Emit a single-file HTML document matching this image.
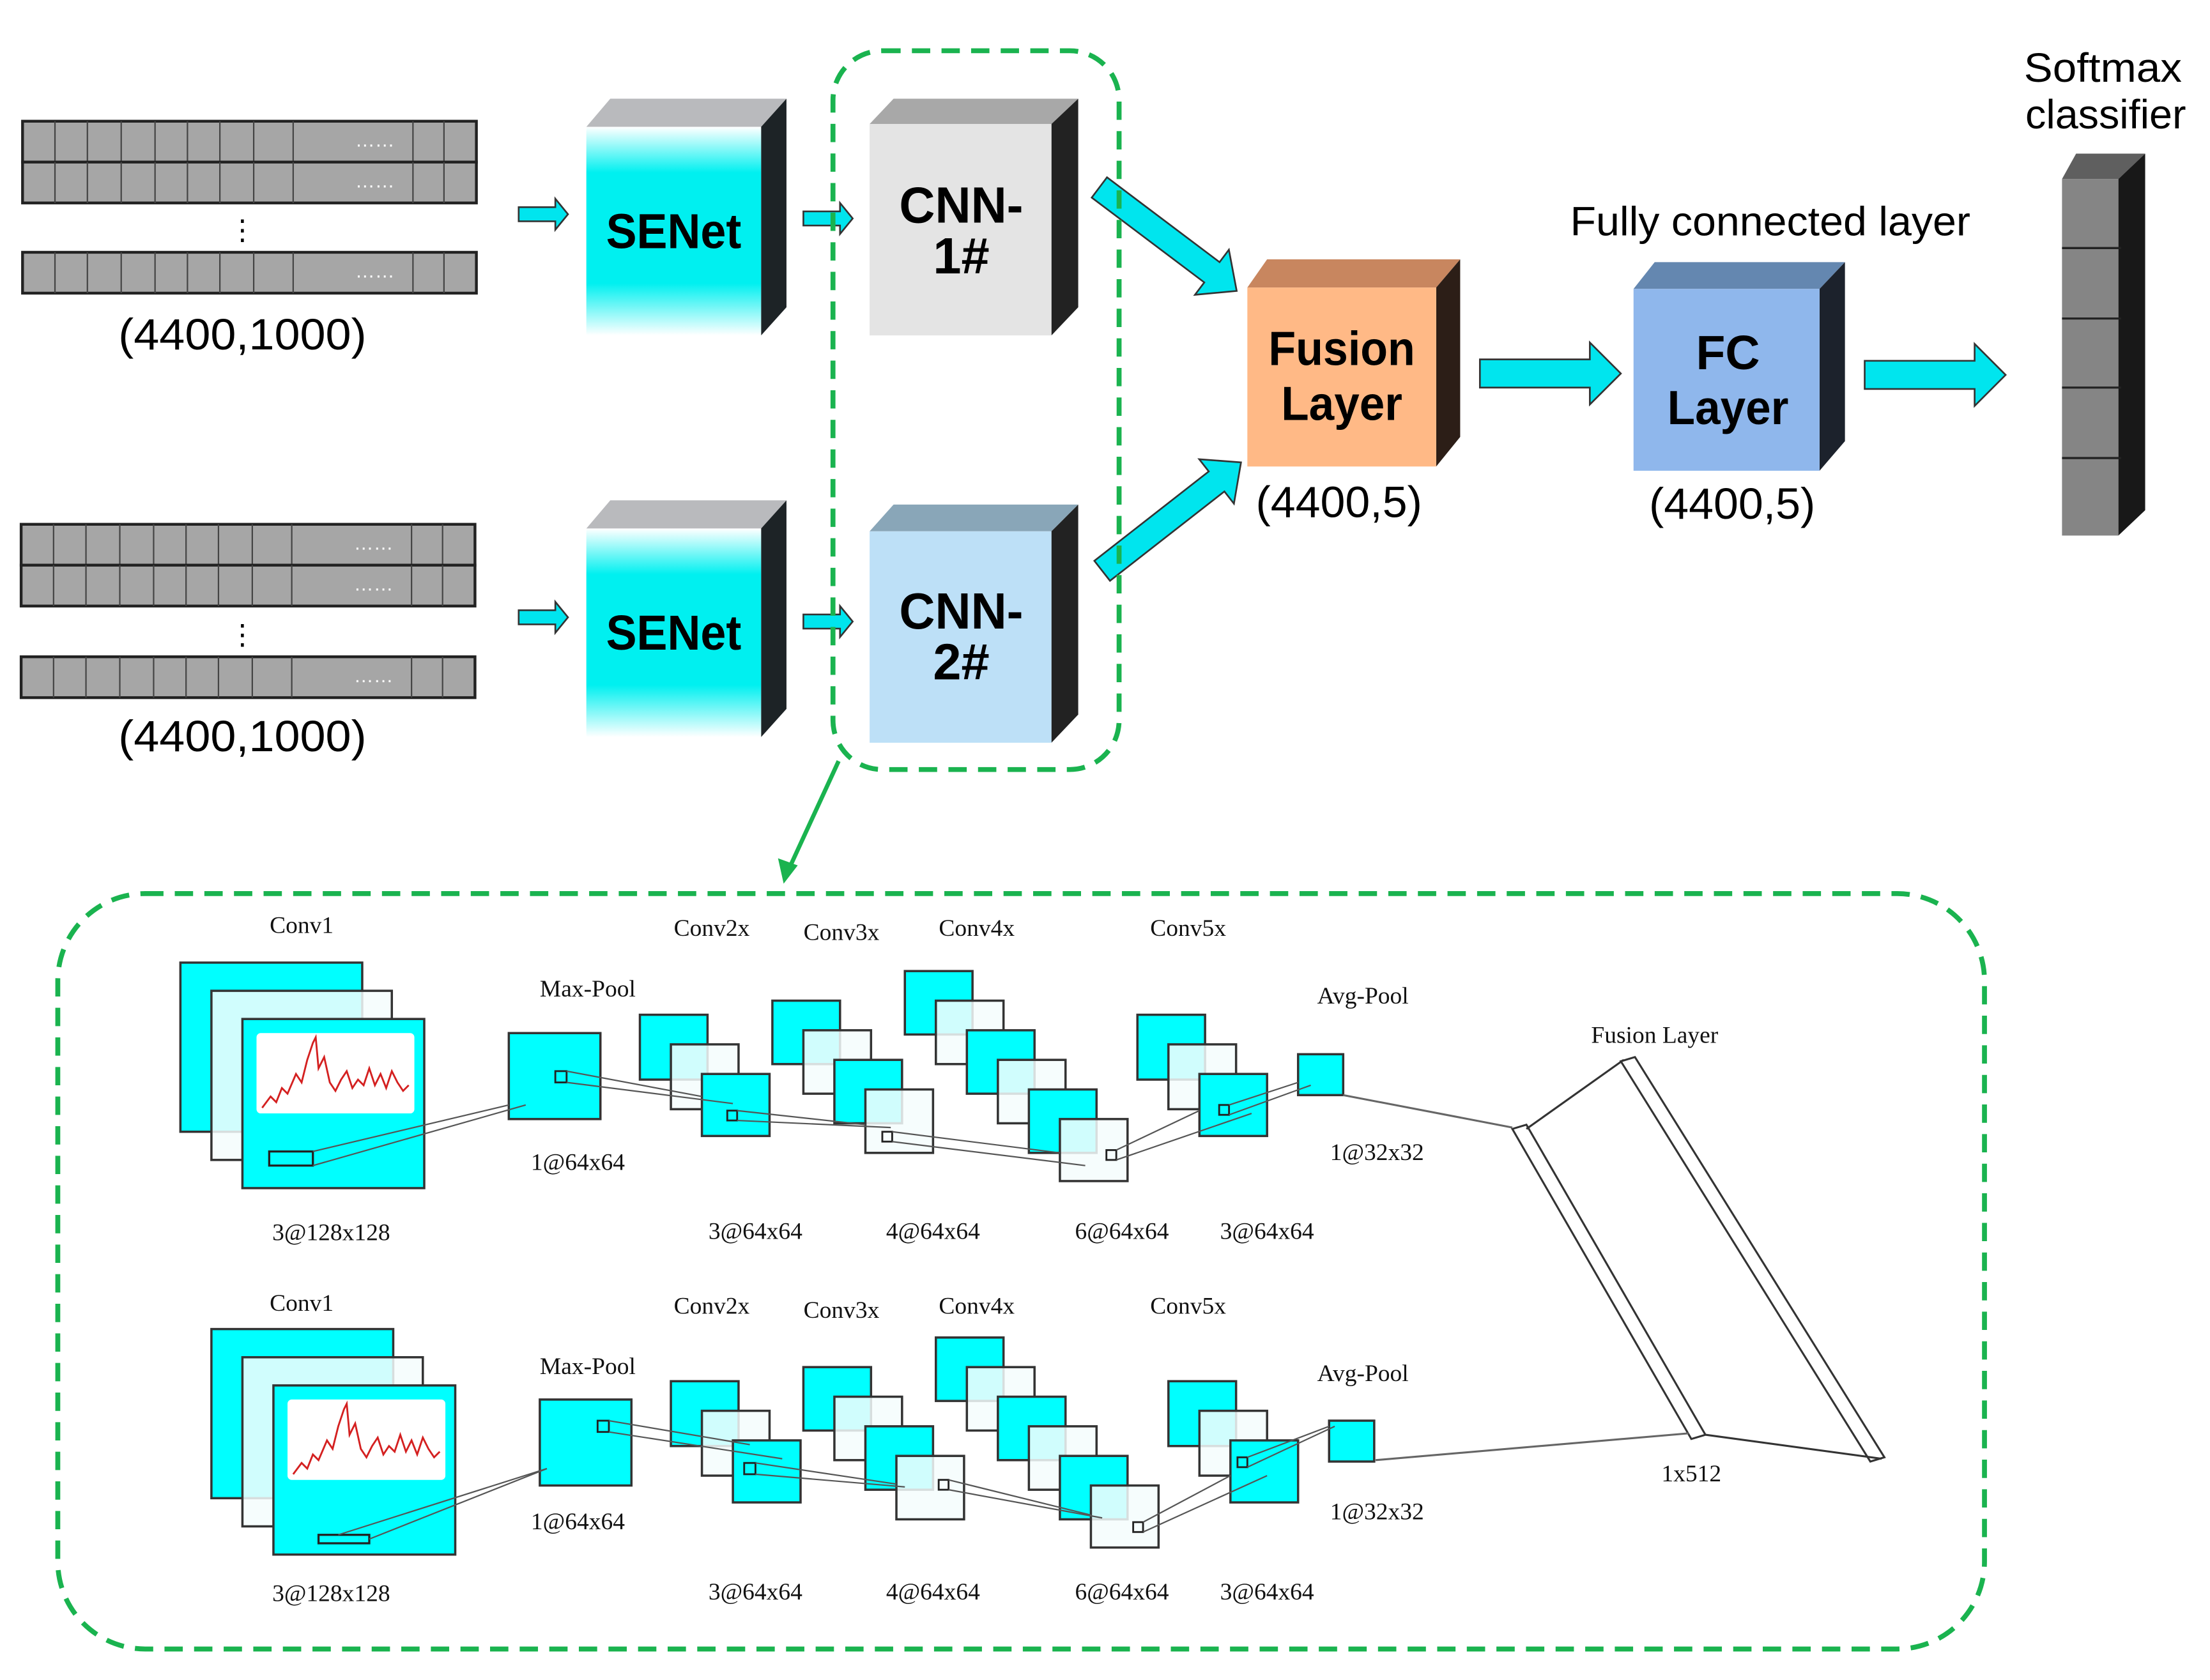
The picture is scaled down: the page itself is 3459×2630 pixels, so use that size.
<!DOCTYPE html>
<html><head><meta charset="utf-8"><style>html,body{margin:0;padding:0;background:#fff}svg{display:block}</style></head><body>
<svg width="3459" height="2630" viewBox="0 0 1568 1192" preserveAspectRatio="none" xmlns="http://www.w3.org/2000/svg" font-family="Liberation Sans, sans-serif">
<defs>
<linearGradient id="se" x1="0" y1="0" x2="0" y2="1">
<stop offset="0" stop-color="#fff"/><stop offset="0.22" stop-color="#00f0f0"/><stop offset="0.75" stop-color="#00f0f0"/><stop offset="1" stop-color="#fff"/></linearGradient>
<g id="mat">
<rect x="0" y="0" width="322" height="29" fill="#a6a6a6" stroke="#222" stroke-width="2"/>
<g stroke="#444" stroke-width="1"><line x1="23" y1="0" x2="23" y2="29"/><line x1="46" y1="0" x2="46" y2="29"/><line x1="70" y1="0" x2="70" y2="29"/><line x1="94" y1="0" x2="94" y2="29"/><line x1="117" y1="0" x2="117" y2="29"/><line x1="140" y1="0" x2="140" y2="29"/><line x1="164" y1="0" x2="164" y2="29"/><line x1="192" y1="0" x2="192" y2="29"/><line x1="277" y1="0" x2="277" y2="29"/><line x1="299" y1="0" x2="299" y2="29"/></g>
<text x="250" y="18" fill="#fff" font-size="14" text-anchor="middle">……</text>
</g>
<g id="sarr"><path d="M0,-5 H26 V-11 L35,0 L26,11 V5 H0 Z" fill="#00e5ee" stroke="#333" stroke-width="1.2"/></g>
<g id="barr"><path d="M0,-10 H78 V-22 L100,0 L78,22 V10 H0 Z" fill="#00e5ee" stroke="#333" stroke-width="1.2"/></g>
</defs>
<rect width="1568" height="1192" fill="#fff"/>

<use href="#mat" x="16" y="86"/><use href="#mat" x="16" y="115"/><use href="#mat" x="16" y="179"/>
<text x="172" y="170" font-size="20" text-anchor="middle">⋮</text>
<text x="172" y="248" font-size="31" text-anchor="middle" textLength="176" lengthAdjust="spacingAndGlyphs">(4400,1000)</text>
<use href="#mat" x="15" y="372"/><use href="#mat" x="15" y="401"/><use href="#mat" x="15" y="466"/>
<text x="172" y="457" font-size="20" text-anchor="middle">⋮</text>
<text x="172" y="533" font-size="31" text-anchor="middle" textLength="176" lengthAdjust="spacingAndGlyphs">(4400,1000)</text>

<use href="#sarr" x="368" y="152"/><use href="#sarr" x="368" y="438"/>
<use href="#sarr" x="570" y="155"/><use href="#sarr" x="570" y="441"/>

<g>
<polygon points="416,90 433,70 558,70 540,90" fill="#b9babd"/>
<polygon points="540,90 558,70 558,218 540,238" fill="#1d2326"/>
<rect x="416" y="90" width="124" height="148" fill="url(#se)"/>
<text x="478" y="176" font-size="35" font-weight="bold" text-anchor="middle" textLength="96" lengthAdjust="spacingAndGlyphs">SENet</text>
</g>
<g>
<polygon points="416,375 433,355 558,355 540,375" fill="#b9babd"/>
<polygon points="540,375 558,355 558,503 540,523" fill="#1d2326"/>
<rect x="416" y="375" width="124" height="148" fill="url(#se)"/>
<text x="478" y="461" font-size="35" font-weight="bold" text-anchor="middle" textLength="96" lengthAdjust="spacingAndGlyphs">SENet</text>
</g>

<polygon points="617,88 634,70 765,70 746,88" fill="#a8a8a8"/>
<polygon points="746,88 765,70 765,218 746,238" fill="#222"/>
<rect x="617" y="88" width="129" height="150" fill="#e4e4e4"/>
<text x="682" y="158" font-size="36" font-weight="bold" text-anchor="middle" textLength="88" lengthAdjust="spacingAndGlyphs">CNN-</text>
<text x="682" y="194" font-size="36" font-weight="bold" text-anchor="middle">1#</text>
<polygon points="617,377 634,358 765,358 746,377" fill="#89a6b8"/>
<polygon points="746,377 765,358 765,507 746,527" fill="#222"/>
<rect x="617" y="377" width="129" height="150" fill="#bde0f7"/>
<text x="682" y="446" font-size="36" font-weight="bold" text-anchor="middle" textLength="88" lengthAdjust="spacingAndGlyphs">CNN-</text>
<text x="682" y="482" font-size="36" font-weight="bold" text-anchor="middle">2#</text>

<g transform="translate(780,133) rotate(37)"><path d="M0,-9 H100 V-20 L122,0 L100,20 V9 H0 Z" fill="#00e5ee" stroke="#333" stroke-width="1.2"/></g>
<g transform="translate(782,405) rotate(-38)"><path d="M0,-9 H103 V-20 L125,0 L103,20 V9 H0 Z" fill="#00e5ee" stroke="#333" stroke-width="1.2"/></g>

<rect x="591" y="36" width="203" height="510" rx="35" fill="none" stroke="#1ab34f" stroke-width="3.5" stroke-dasharray="13 8"/>

<polygon points="885,204 899,184 1036,184 1019,204" fill="#c8865f"/>
<polygon points="1019,204 1036,184 1036,310 1019,331" fill="#2c1e17"/>
<rect x="885" y="204" width="134" height="127" fill="#ffb986"/>
<text x="952" y="259" font-size="34" font-weight="bold" text-anchor="middle" textLength="104" lengthAdjust="spacingAndGlyphs">Fusion</text>
<text x="952" y="298" font-size="34" font-weight="bold" text-anchor="middle" textLength="86" lengthAdjust="spacingAndGlyphs">Layer</text>
<text x="950" y="367" font-size="31" text-anchor="middle" textLength="118" lengthAdjust="spacingAndGlyphs">(4400,5)</text>
<use href="#barr" x="1050" y="265"/>
<polygon points="1159,205 1174,186 1309,186 1291,205" fill="#6487b0"/>
<polygon points="1291,205 1309,186 1309,313 1291,334" fill="#1c222c"/>
<rect x="1159" y="205" width="132" height="129" fill="#8fb7ec"/>
<text x="1226" y="262" font-size="34" font-weight="bold" text-anchor="middle">FC</text>
<text x="1226" y="301" font-size="34" font-weight="bold" text-anchor="middle" textLength="86" lengthAdjust="spacingAndGlyphs">Layer</text>
<text x="1229" y="368" font-size="31" text-anchor="middle" textLength="118" lengthAdjust="spacingAndGlyphs">(4400,5)</text>
<text x="1256" y="167" font-size="29" text-anchor="middle" textLength="284" lengthAdjust="spacingAndGlyphs">Fully connected layer</text>
<use href="#barr" x="1323" y="266"/>
<polygon points="1463,127 1473,109 1522,109 1503,127" fill="#5f5f5f"/>
<polygon points="1503,127 1522,109 1522,362 1503,380" fill="#181818"/>
<rect x="1463" y="127" width="40" height="253" fill="#858585"/>
<g stroke="#222" stroke-width="1.5"><line x1="1463" y1="176" x2="1505" y2="176"/><line x1="1463" y1="226" x2="1505" y2="226"/><line x1="1463" y1="275" x2="1505" y2="275"/><line x1="1463" y1="325" x2="1505" y2="325"/></g>
<text x="1492" y="58" font-size="29" text-anchor="middle" textLength="112" lengthAdjust="spacingAndGlyphs">Softmax</text>
<text x="1494" y="91" font-size="29" text-anchor="middle" textLength="114" lengthAdjust="spacingAndGlyphs">classifier</text>

<line x1="595" y1="540" x2="560" y2="616" stroke="#1ab34f" stroke-width="3"/>
<polygon points="556,627 552,609 566,614" fill="#1ab34f"/>
<rect x="41" y="634" width="1367" height="536" rx="62" fill="none" stroke="#1ab34f" stroke-width="3.5" stroke-dasharray="13 8"/>

<g font-family="Liberation Serif, serif" font-size="17" fill="#111">
<g>
<g stroke="#333" stroke-width="1.6">
<rect x="128" y="683" width="129" height="120" fill="#00ffff"/>
<rect x="150" y="703" width="128" height="120" fill="#f4fdfd" fill-opacity="0.85"/>
<rect x="172" y="723" width="129" height="120" fill="#00ffff"/>
</g>
<rect x="182" y="733" width="112" height="57" fill="#fff" rx="3"/>
<polyline points="186,786 192,778 196,782 200,772 204,776 210,762 214,768 218,752 222,740 224,736 226,758 230,750 234,768 238,774 242,766 246,760 250,772 254,766 258,770 262,758 266,770 270,762 274,772 278,760 282,768 286,774 290,770" fill="none" stroke="#d42020" stroke-width="1.3"/>
<rect x="191" y="817" width="31" height="10" fill="none" stroke="#222" stroke-width="1.5"/>
<rect x="361" y="733" width="65" height="61" fill="#00ffff" stroke="#333" stroke-width="1.6"/>
<rect x="394" y="760" width="8" height="8" fill="none" stroke="#222" stroke-width="1.3"/>
<g stroke="#333" stroke-width="1.6">
<rect x="454" y="720" width="48" height="46" fill="#00ffff"/>
<rect x="476" y="741" width="48" height="46" fill="#f4fdfd" fill-opacity="0.85"/>
<rect x="498" y="762" width="48" height="44" fill="#00ffff"/>
<rect x="548" y="710" width="48" height="45" fill="#00ffff"/>
<rect x="570" y="731" width="48" height="45" fill="#f4fdfd" fill-opacity="0.85"/>
<rect x="592" y="752" width="48" height="45" fill="#00ffff"/>
<rect x="614" y="773" width="48" height="45" fill="#f4fdfd" fill-opacity="0.85"/>
<rect x="642" y="689" width="48" height="45" fill="#00ffff"/>
<rect x="664" y="710" width="48" height="45" fill="#f4fdfd" fill-opacity="0.85"/>
<rect x="686" y="731" width="48" height="45" fill="#00ffff"/>
<rect x="708" y="752" width="48" height="45" fill="#f4fdfd" fill-opacity="0.85"/>
<rect x="730" y="773" width="48" height="45" fill="#00ffff"/>
<rect x="752" y="794" width="48" height="44" fill="#f4fdfd" fill-opacity="0.85"/>
<rect x="807" y="720" width="48" height="46" fill="#00ffff"/>
<rect x="829" y="741" width="48" height="46" fill="#f4fdfd" fill-opacity="0.85"/>
<rect x="851" y="762" width="48" height="44" fill="#00ffff"/>
<rect x="921" y="748" width="32" height="29" fill="#00ffff"/>
</g>
<g fill="none" stroke="#222" stroke-width="1.3">
<rect x="516" y="788" width="7" height="7"/><rect x="626" y="803" width="7" height="7"/><rect x="785" y="816" width="7" height="7"/><rect x="865" y="784" width="7" height="7"/>
</g>
<g stroke="#555" stroke-width="1">
<line x1="222" y1="817" x2="361" y2="784"/><line x1="222" y1="827" x2="373" y2="784"/>
<line x1="402" y1="760" x2="498" y2="778"/><line x1="402" y1="768" x2="520" y2="783"/>
<line x1="523" y1="788" x2="614" y2="798"/><line x1="523" y1="795" x2="632" y2="800"/>
<line x1="633" y1="803" x2="752" y2="818"/><line x1="633" y1="810" x2="770" y2="827"/>
<line x1="792" y1="816" x2="851" y2="788"/><line x1="792" y1="823" x2="888" y2="790"/>
<line x1="872" y1="784" x2="921" y2="768"/><line x1="872" y1="791" x2="930" y2="770"/>
</g>
<text x="214" y="662" text-anchor="middle">Conv1</text>
<text x="417" y="707" text-anchor="middle">Max-Pool</text>
<text x="505" y="664" text-anchor="middle">Conv2x</text>
<text x="597" y="667" text-anchor="middle">Conv3x</text>
<text x="693" y="664" text-anchor="middle">Conv4x</text>
<text x="843" y="664" text-anchor="middle">Conv5x</text>
<text x="967" y="712" text-anchor="middle">Avg-Pool</text>
<text x="410" y="830" text-anchor="middle">1@64x64</text>
<text x="977" y="823" text-anchor="middle">1@32x32</text>
<text x="235" y="880" text-anchor="middle">3@128x128</text>
<text x="536" y="879" text-anchor="middle">3@64x64</text>
<text x="662" y="879" text-anchor="middle">4@64x64</text>
<text x="796" y="879" text-anchor="middle">6@64x64</text>
<text x="899" y="879" text-anchor="middle">3@64x64</text>
</g>
</g>
<g font-family="Liberation Serif, serif" font-size="17" fill="#111">
<g transform="translate(22,260)">
<g stroke="#333" stroke-width="1.6">
<rect x="128" y="683" width="129" height="120" fill="#00ffff"/>
<rect x="150" y="703" width="128" height="120" fill="#f4fdfd" fill-opacity="0.85"/>
<rect x="172" y="723" width="129" height="120" fill="#00ffff"/>
</g>
<rect x="182" y="733" width="112" height="57" fill="#fff" rx="3"/>
<polyline points="186,786 192,778 196,782 200,772 204,776 210,762 214,768 218,752 222,740 224,736 226,758 230,750 234,768 238,774 242,766 246,760 250,772 254,766 258,770 262,758 266,770 270,762 274,772 278,760 282,768 286,774 290,770" fill="none" stroke="#d42020" stroke-width="1.3"/>
<rect x="204" y="829" width="36" height="6" fill="none" stroke="#222" stroke-width="1.5"/>
<rect x="361" y="733" width="65" height="61" fill="#00ffff" stroke="#333" stroke-width="1.6"/>
<rect x="402" y="748" width="8" height="8" fill="none" stroke="#222" stroke-width="1.3"/>
<g stroke="#333" stroke-width="1.6">
<rect x="454" y="720" width="48" height="46" fill="#00ffff"/>
<rect x="476" y="741" width="48" height="46" fill="#f4fdfd" fill-opacity="0.85"/>
<rect x="498" y="762" width="48" height="44" fill="#00ffff"/>
<rect x="548" y="710" width="48" height="45" fill="#00ffff"/>
<rect x="570" y="731" width="48" height="45" fill="#f4fdfd" fill-opacity="0.85"/>
<rect x="592" y="752" width="48" height="45" fill="#00ffff"/>
<rect x="614" y="773" width="48" height="45" fill="#f4fdfd" fill-opacity="0.85"/>
<rect x="642" y="689" width="48" height="45" fill="#00ffff"/>
<rect x="664" y="710" width="48" height="45" fill="#f4fdfd" fill-opacity="0.85"/>
<rect x="686" y="731" width="48" height="45" fill="#00ffff"/>
<rect x="708" y="752" width="48" height="45" fill="#f4fdfd" fill-opacity="0.85"/>
<rect x="730" y="773" width="48" height="45" fill="#00ffff"/>
<rect x="752" y="794" width="48" height="44" fill="#f4fdfd" fill-opacity="0.85"/>
<rect x="807" y="720" width="48" height="46" fill="#00ffff"/>
<rect x="829" y="741" width="48" height="46" fill="#f4fdfd" fill-opacity="0.85"/>
<rect x="851" y="762" width="48" height="44" fill="#00ffff"/>
<rect x="921" y="748" width="32" height="29" fill="#00ffff"/>
</g>
<g fill="none" stroke="#222" stroke-width="1.3">
<rect x="506" y="778" width="8" height="8"/><rect x="644" y="790" width="7" height="7"/><rect x="782" y="820" width="7" height="7"/><rect x="856" y="774" width="7" height="7"/>
</g>
<g stroke="#555" stroke-width="1">
<line x1="218" y1="829" x2="366" y2="782"/><line x1="240" y1="832" x2="366" y2="782"/>
<line x1="410" y1="748" x2="510" y2="765"/><line x1="410" y1="756" x2="533" y2="775"/>
<line x1="514" y1="778" x2="614" y2="793"/><line x1="514" y1="786" x2="620" y2="795"/>
<line x1="651" y1="790" x2="752" y2="815"/><line x1="651" y1="797" x2="760" y2="817"/>
<line x1="789" y1="820" x2="851" y2="787"/><line x1="789" y1="827" x2="877" y2="787"/>
<line x1="863" y1="774" x2="921" y2="752"/><line x1="863" y1="781" x2="925" y2="752"/>
</g>
</g>
<text x="214" y="930" text-anchor="middle">Conv1</text>
<text x="417" y="975" text-anchor="middle">Max-Pool</text>
<text x="505" y="932" text-anchor="middle">Conv2x</text>
<text x="597" y="935" text-anchor="middle">Conv3x</text>
<text x="693" y="932" text-anchor="middle">Conv4x</text>
<text x="843" y="932" text-anchor="middle">Conv5x</text>
<text x="967" y="980" text-anchor="middle">Avg-Pool</text>
<text x="410" y="1085" text-anchor="middle">1@64x64</text>
<text x="977" y="1078" text-anchor="middle">1@32x32</text>
<text x="235" y="1136" text-anchor="middle">3@128x128</text>
<text x="536" y="1135" text-anchor="middle">3@64x64</text>
<text x="662" y="1135" text-anchor="middle">4@64x64</text>
<text x="796" y="1135" text-anchor="middle">6@64x64</text>
<text x="899" y="1135" text-anchor="middle">3@64x64</text>

<g fill="none" stroke="#333" stroke-width="1.4">
<polygon points="1073,801 1083,798 1210,1018 1200,1021"/>
<polygon points="1150,753 1160,750 1337,1034 1327,1037"/>
<line x1="1083" y1="801" x2="1152" y2="752"/>
<line x1="1210" y1="1018" x2="1335" y2="1035"/>
<line x1="953" y1="777" x2="1073" y2="800" stroke="#666"/>
<line x1="976" y1="1036" x2="1198" y2="1017" stroke="#666"/>
</g>
<text x="1174" y="740" text-anchor="middle">Fusion Layer</text>
<text x="1200" y="1051" text-anchor="middle">1x512</text>
</g>
</svg>
</body></html>
